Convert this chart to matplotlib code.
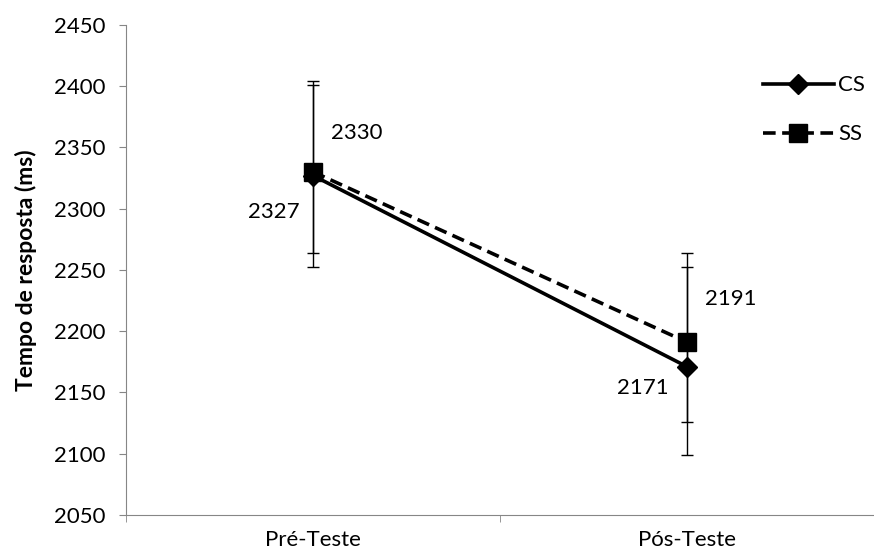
import numpy as np
import matplotlib.pyplot as plt

plt.rcParams['font.family'] = ['Lato', 'DejaVu Sans']

fases = ["Pré-Teste", "Pós-Teste"]
cs = [2327, 2171]
ss = [2330, 2191]
# limites das barras de erro (inferior, superior)
cs_low = [2252, 2099]
cs_high = [2401, 2252]
ss_low = [2264, 2126]
ss_high = [2404.5, 2264]

x = np.arange(len(fases))

fig = plt.figure(figsize=(8.74, 5.52), dpi=100)
ax = fig.add_axes([0.1442, 0.067, 0.856, 0.888])

cs_err = [np.array(cs) - np.array(cs_low), np.array(cs_high) - np.array(cs)]
ss_err = [np.array(ss) - np.array(ss_low), np.array(ss_high) - np.array(ss)]

ax.errorbar(x, cs, yerr=cs_err, fmt="none", ecolor="black", elinewidth=1,
            capsize=4.5, capthick=1, zorder=2)
ax.errorbar(x, ss, yerr=ss_err, fmt="none", ecolor="black", elinewidth=1,
            capsize=4.5, capthick=1, zorder=2)

ax.plot(x, cs, color="black", linewidth=2.6, marker="D", markersize=10,
        label="CS", zorder=3)
ax.plot(x, ss, color="black", linewidth=2.6, linestyle=(0, (3.5, 1.8)), marker="s",
        markersize=13, label="SS", zorder=4)

fs = 16
# rótulos de valores
ax.annotate(str(ss[0]), (x[0], ss[0]), xytext=(13, 28), textcoords="offset points",
            fontsize=fs, ha="left", va="center")
ax.annotate(str(cs[0]), (x[0], cs[0]), xytext=(-10, -26), textcoords="offset points",
            fontsize=fs, ha="right", va="center")
ax.annotate(str(ss[1]), (x[1], ss[1]), xytext=(13, 31), textcoords="offset points",
            fontsize=fs, ha="left", va="center")
ax.annotate(str(cs[1]), (x[1], cs[1]), xytext=(-13, -15), textcoords="offset points",
            fontsize=fs, ha="right", va="center")

ax.set_xlim(-0.5, 1.5)
ax.set_ylim(2050, 2450)
ax.set_yticks(np.arange(2050, 2451, 50))
ax.set_xticks(x)
ax.set_xticklabels(fases)
ax.set_xticks([-0.5, 0.5, 1.5], minor=True)
ax.tick_params(axis="x", which="major", length=0, pad=11, labelsize=fs)
ax.tick_params(axis="x", which="minor", length=5, color="#868686")
ax.tick_params(axis="y", length=5, color="#868686", labelsize=fs, pad=10)

for s in ["top", "right"]:
    ax.spines[s].set_visible(False)
for s in ["left", "bottom"]:
    ax.spines[s].set_color("#868686")

ax.set_ylabel("Tempo de resposta (ms)", fontsize=16.5, fontweight="bold", labelpad=12)

ax.legend(loc="upper right", bbox_to_anchor=(1.0, 0.915), frameon=False,
          fontsize=fs, handlelength=3.2, handletextpad=0.2, labelspacing=1.3,
          borderaxespad=0.0)

fig.savefig("out.png", dpi=100)
